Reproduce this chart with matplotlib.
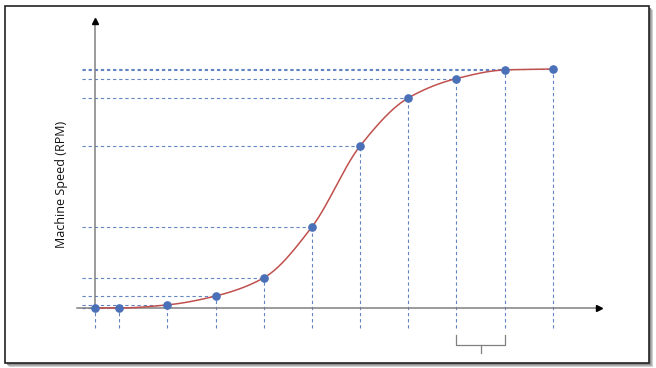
import numpy as np
import matplotlib.pyplot as plt
from matplotlib.patches import Rectangle

# Data (time steps vs machine speed)
time_steps = [0, 0.5, 1.5, 2.5, 3.5, 4.5, 5.5, 6.5, 7.5, 8.5, 9.5]
speed_rpm = [0, 0, 13, 50, 126, 339, 678, 879, 960, 996, 1000]
y_label = "Machine Speed (RPM)"
brace_span = [7.5, 8.5]

blue = "#4a70b8"
red = "#c0504d"
axis_gray = "#808080"


def pchip_curve(x, y, n=40):
    # monotone cubic path through the points, only for drawing the smooth line
    x = np.asarray(x, float)
    y = np.asarray(y, float)
    h = np.diff(x)
    delta = np.diff(y) / h
    d = np.zeros_like(y)
    for k in range(1, len(x) - 1):
        if delta[k - 1] * delta[k] > 0:
            w1 = 2 * h[k] + h[k - 1]
            w2 = h[k] + 2 * h[k - 1]
            d[k] = (w1 + w2) / (w1 / delta[k - 1] + w2 / delta[k])
    d[0] = delta[0]
    d[-1] = delta[-1]
    xs, ys = [], []
    for k in range(len(x) - 1):
        t = np.linspace(0, 1, n)
        h00 = 2 * t**3 - 3 * t**2 + 1
        h10 = t**3 - 2 * t**2 + t
        h01 = -2 * t**3 + 3 * t**2
        h11 = t**3 - t**2
        xs.append(x[k] + t * h[k])
        ys.append(h00 * y[k] + h10 * h[k] * d[k] + h01 * y[k + 1] + h11 * h[k] * d[k + 1])
    return np.concatenate(xs), np.concatenate(ys)


fig = plt.figure(figsize=(6.56, 3.68), dpi=100)
fig.patch.set_facecolor("white")

# framed box with a soft shadow
W, H = 656.0, 368.0
for off, col in [(4, "#d0d0d0"), (3, "#b0b0b0"), (2, "#909090")]:
    fig.patches.append(Rectangle((5 / W + off / W, (5 - off) / H), 644 / W, 357 / H,
                                 transform=fig.transFigure, facecolor=col,
                                 edgecolor="none", zorder=-3))
fig.patches.append(Rectangle((5 / W, 5 / H), 644 / W, 357 / H,
                             transform=fig.transFigure, facecolor="white",
                             edgecolor="#222222", linewidth=1.2, zorder=-2))

ax = fig.add_axes([0, 0, 1, 1])
ax.set_zorder(5)
ax.patch.set_alpha(0)
ax.set_xlim(-95 / 48.2, (656 - 95) / 48.2)
ax.set_ylim((308 - 368) / 0.239, 308 / 0.239)
ax.axis("off")

# guide lines from every point to both axes
x_left = -0.27
y_bottom = -84
for x, y in zip(time_steps, speed_rpm):
    ax.plot([x_left, x], [y, y], color=blue, lw=0.8, dashes=(3, 2.5), alpha=0.85, zorder=2)
    ax.plot([x, x], [y_bottom, y], color=blue, lw=0.8, dashes=(3, 2.5), alpha=0.85, zorder=2)

# axes: gray lines with small black arrow heads
ax.plot([-0.37, 10.45], [0, 0], color=axis_gray, lw=1.1, zorder=3)
ax.plot([0, 0], [0, 1200], color=axis_gray, lw=1.1, zorder=3)
ax.plot([10.45], [0], marker=">", color="black", markersize=5, zorder=3)
ax.plot([0], [1200], marker="^", color="black", markersize=5, zorder=3)

# smooth curve and the points
cx, cy = pchip_curve(time_steps, speed_rpm)
ax.plot(cx, cy, color=red, lw=1.1, zorder=4)
ax.plot(time_steps, speed_rpm, "o", color=blue, markersize=5.2, zorder=5)

# brace under the last interval
b0, b1 = brace_span
bm = (b0 + b1) / 2
ax.plot([b0, b0, bm, b1, b1], [-113, -155, -155, -155, -113], color=axis_gray, lw=0.9,
        solid_joinstyle="round", zorder=3)
ax.plot([bm, bm], [-155, -188], color=axis_gray, lw=0.9, zorder=3)

fig.text(62 / W, 1 - 184 / H, y_label, rotation=90, ha="center", va="center",
         fontsize=9, family="Open Sans", color="#111111")

fig.savefig("out.png", dpi=100)
